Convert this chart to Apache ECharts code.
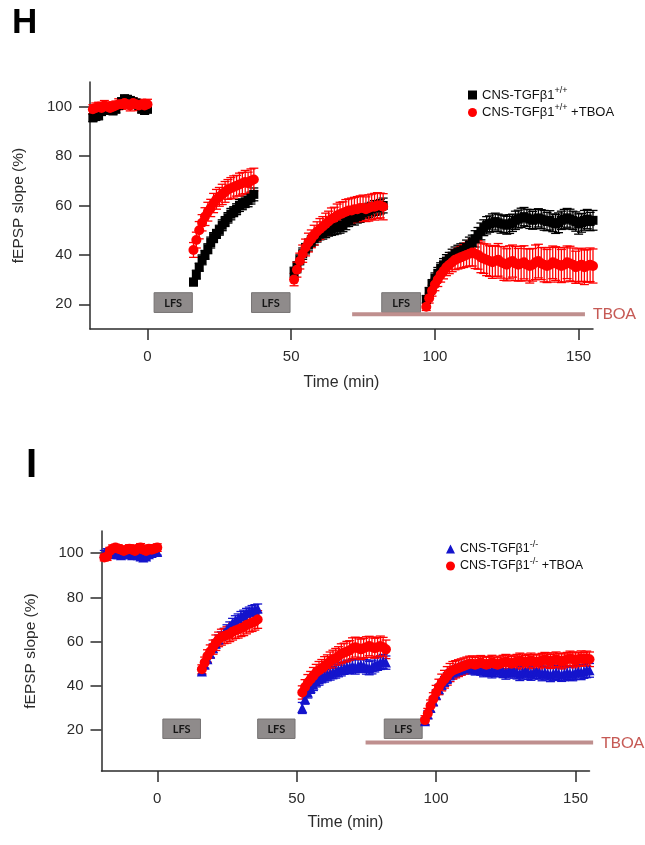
<!DOCTYPE html>
<html>
<head>
<meta charset="utf-8">
<script src="https://cdn.jsdelivr.net/npm/echarts@6/dist/echarts.min.js"></script>
<style>html,body{margin:0;padding:0;background:#fff}#c{width:645px;height:845px}</style>
</head>
<body>
<div id="c"></div>
<script>
// ---------- Panel H data ----------
const hTime = [-19,-18,-17,-16,-15,-14,-13,-12,-11,-10,-9,-8,-7,-6,-5,-4,-3,-2,-1,0,
  16,17,18,19,20,21,22,23,24,25,26,27,28,29,30,31,32,33,34,35,36,37,
  51,52,53,54,55,56,57,58,59,60,61,62,63,64,65,66,67,68,69,70,71,72,73,74,75,76,77,78,79,80,81,82,
  97,98,99,100,101,102,103,104,105,106,107,108,109,110,111,112,113,114,115,116,117,118,119,120,121,122,123,124,125,126,127,128,129,130,131,132,133,134,135,136,137,138,139,140,141,142,143,144,145,146,147,148,149,150,151,152,153,154,155];
const hCtl = [95.5,96,96.5,98,98.5,99,99.5,98.5,99,100.5,102,103,103,102.5,102,101.5,100.5,99,98.5,99,
  29,32,35,38,40,42.5,45,47,48.5,50,52,53.5,55,56.5,57.5,58.5,60,60.5,61.5,62,63,64.5,
  33,35,38,40.5,42.5,44,45.5,46.5,47.5,48.5,49,49.5,50,50.5,51,51,51.5,52,53,54,55,55,55.5,56,57,57.5,58,58.5,59,59,59.5,60,
  22,25,28,30.5,32.5,34.5,36,37.5,38.5,39.5,40.5,41,41.5,42,43,44,45,46.5,48,49.5,51,52,52.5,53,53.5,53,52.5,52.5,52,52.5,53,54,54.5,55,55.5,55,54.5,54,54.5,55,54.5,54,53.5,54,53,52.5,53,54,54.5,55,54.5,54,53.5,52.5,53,54,54.5,53.5,54];
const hCtlErr = [1.5,1.5,1.8,1.5,1.5,1.6,1.5,1.8,1.5,1.5,1.6,1.8,1.5,1.6,1.5,1.5,1.8,1.5,1.6,1.5,
  1.5,1.8,1.6,2,1.8,2,2.2,2,1.8,2,2.2,2,2.1,2.3,2,2.2,2.4,2.2,2.3,2.5,2.4,2.6,
  2,2.2,2,2.3,2.1,2.4,2.2,2.5,2.3,2.4,2.6,2.5,2.4,2.6,2.8,2.5,2.7,2.6,2.8,2.5,2.7,2.9,2.6,2.8,3,2.7,2.9,2.8,3,2.8,2.9,3,
  1.5,1.8,2,2.2,2.4,2.3,2.5,2.6,2.5,2.8,2.7,2.9,3,2.8,3,3.2,3,3.3,3.1,3.4,3.2,3.5,3.3,3.6,3.4,3.5,3.7,3.4,3.6,3.8,3.5,3.7,3.6,3.9,3.7,3.5,3.8,3.6,3.9,3.7,3.8,4,3.7,3.9,3.6,3.8,4,3.7,3.9,3.8,4,3.7,3.9,4.1,3.8,4,3.9,3.7,4];
const hTboa = [99,99.5,100,99.5,100.5,100,99.5,100,100.5,101,101,101.5,101,100.5,101.5,101,100.5,101,100.5,101,
  42,46,50,53,55.5,57.5,59,61,62.5,63.5,64.5,65.5,66.5,67,67.5,68,68.5,69,69.5,69,70,70.5,
  30,34,37.5,40.5,43,45,46.5,48,49.5,50.5,51.5,52.5,53.5,54.5,55,56,56.5,57,57.5,58,58,58.5,58.5,59,59,58.5,59,59.5,59.5,60,60,59.5,
  19,22.5,25.5,28,30,32,33.5,35,36,37,38,38.5,39,39.5,40,40.5,41,40.5,40,39,38.5,38,37.5,37,37.5,38,37,36.5,36,37,37.5,36.5,36,36.5,37,36,35.5,36,37,37.5,36.5,36,35.5,36,37,36.5,36,35.5,36,37,36.5,36,35,35.5,36,35,35.5,36,35.5];
const hTboaErr = [1.8,2,1.8,2.2,2,1.9,2.1,2,1.8,2.2,2,2.1,1.9,2.2,2,1.8,2.1,2,2.2,2,
  3,3.2,3.5,3.3,3.6,3.8,3.5,3.9,4,3.8,4.1,4.2,4,4.3,4.5,4.2,4.6,4.4,4.7,4.5,4.8,4.6,
  2.5,3,3.2,3.5,3.4,3.8,3.6,4,3.9,4.2,4,4.4,4.2,4.5,4.3,4.6,4.8,4.5,4.9,4.7,5,4.8,5.1,4.9,5.2,5,5.3,5.1,5.4,5.2,5,5.3,
  1.5,2,2.2,2.5,2.8,3,3.2,3.4,3.6,3.8,4,4.2,4.4,4.6,4.8,5,5.5,6,5.8,6.2,6,6.4,6.2,6.5,6.3,6.6,6.4,6.8,6.5,6.7,6.5,6.9,6.6,7,6.7,6.5,6.9,6.6,7,6.8,6.5,6.9,6.7,7,6.6,6.8,7,6.7,6.9,6.6,7,6.8,6.5,6.9,6.7,7,6.6,6.8,6.9];

// ---------- Panel I data ----------
const iTime = [-19,-18,-17,-16,-15,-14,-13,-12,-11,-10,-9,-8,-7,-6,-5,-4,-3,-2,-1,0,
  16,17,18,19,20,21,22,23,24,25,26,27,28,29,30,31,32,33,34,35,36,
  52,53,54,55,56,57,58,59,60,61,62,63,64,65,66,67,68,69,70,71,72,73,74,75,76,77,78,79,80,81,82,
  96,97,98,99,100,101,102,103,104,105,106,107,108,109,110,111,112,113,114,115,116,117,118,119,120,121,122,123,124,125,126,127,128,129,130,131,132,133,134,135,136,137,138,139,140,141,142,143,144,145,146,147,148,149,150,151,152,153,154,155];
const iKo = [100,100.5,100,99.5,100,99.5,99,99.5,100,99.5,99,99.5,99,98.5,98,98.5,99.5,100,100.5,100.5,
  46.5,49.5,52,54.5,57,59,61,62.5,64,65.5,67,68.5,69.5,70.5,71.5,72,73,73.5,74,74.5,75,
  30,34,37,39,40.5,42,43,44,44.5,45,45.5,46,46.5,47,47.5,48,48.5,48.5,49,48.5,49,49.5,49,48.5,48,48.5,49.5,50,50.5,51,50.5,
  24,27,30,33,36,38.5,40.5,42,43.5,45,46,46.5,47,47.5,48,48.5,48.5,48,47.5,48,47.5,47,47.5,47,46.5,47,47.5,47,46.5,46,46.5,47,46.5,46,45.5,46,46.5,46,45.5,46,46.5,46,45.5,46,45.5,45,45.5,46,45.5,45,45.5,46,45.5,45.5,46,46.5,46,46.5,47,47];
const iKoErr = [1.2,1.5,1.3,1.4,1.2,1.5,1.3,1.2,1.4,1.5,1.3,1.2,1.4,1.5,1.3,1.4,1.2,1.5,1.3,1.4,
  1.5,1.6,1.8,1.7,1.9,1.8,2,1.9,2,2.1,1.9,2,2.2,2,2.1,2.2,2,2.1,2.3,2.2,2,
  2.5,2.3,2.5,2.4,2.6,2.5,2.7,2.6,2.8,2.7,2.9,2.8,3,2.9,3,2.8,3.1,2.9,3,3.2,3,3.1,2.9,3.2,3,3.1,3.2,3,3.1,3.2,3,
  1.5,1.7,1.9,2,2.2,2.1,2.3,2.2,2.4,2.3,2.5,2.4,2.6,2.5,2.7,2.6,2.8,2.7,2.6,2.8,2.7,2.9,2.8,2.7,2.9,2.8,3,2.9,2.8,3,2.9,2.8,3,2.9,3.1,3,2.9,3.1,3,2.9,3.1,3,3.2,3,2.9,3.1,3,3.2,3.1,3,3.2,3.1,3,3.2,3.1,3,3.2,3.1,3.3,3.1];
const iTboa = [98,98.5,101,102,102.5,102,101.5,101,101.5,102,101.5,101,102,102.5,101.5,101,102,101.5,102,102.5,
  47.5,50.5,53.5,55.5,57.5,59.5,61,62,62.5,63,63.5,64.5,65,65.5,66,66.5,67.5,68,68.5,69,70,
  37,39.5,41.5,43,44.5,46,47,48,49,50,51,52,52.5,53.5,54.5,55,55.5,56,57,57.5,57,56.5,57,57.5,58,57.5,57,57.5,58,57.5,56.5,
  24.5,27.5,31,34,37,39.5,41.5,43,44.5,46,47,47.5,48,48.5,49,49.5,50,50,49.5,50,50.5,50,49.5,50,50.5,50,49.5,50,50.5,51,50.5,50,50.5,51,51.5,51,50.5,51,51.5,51,50.5,51,51.5,52,51.5,51,51.5,52,51.5,51,51.5,52,52.5,52,51.5,52,52.5,52,52.5,52];
const iTboaErr = [1.5,1.8,1.6,1.7,1.5,1.8,1.6,1.5,1.7,1.8,1.6,1.5,1.7,1.8,1.6,1.5,1.7,1.6,1.8,1.7,
  2,2.5,2.8,3,3.2,3.5,3.3,3.6,3.4,3.7,3.5,3.8,3.6,3.9,3.7,3.8,4,3.7,3.9,3.8,4,
  3,3.3,3.6,3.5,3.8,3.7,4,3.9,4.2,4,4.3,4.1,4.4,4.2,4.5,4.3,4.6,4.4,4.7,4.5,4.8,4.6,4.5,4.7,4.4,4.6,4.5,4.3,4.5,4.4,4.2,
  2,2.3,2.6,2.9,3.2,3.5,3.8,4,4.2,4.1,4,3.9,3.8,3.7,3.6,3.5,3.4,3.5,3.3,3.4,3.2,3.3,3.4,3.2,3.3,3.1,3.2,3.4,3.3,3.2,3.4,3.3,3.1,3.2,3.3,3.4,3.2,3.1,3.3,3.2,3.4,3.3,3.2,3.1,3.3,3.2,3.4,3.3,3.2,3.4,3.3,3.1,3.2,3.3,3.4,3.2,3.3,3.1,3.2,3.3];

// ---------- Annotations (time in min, slope in %) ----------
const hLfsFrom = [2.3, 36.2, 81.5], hLfsTo = [15.6, 49.6, 95], hLfsLow = 16.7, hLfsHigh = 24.7;
const iLfsFrom = [2.0, 36.0, 81.4], iLfsTo = [15.5, 49.4, 95], iLfsLow = 16.2, iLfsHigh = 25;
const hTboaBar = [71.2, 152.2, 16];
const iTboaBar = [74.7, 156.3, 14.4];

// ---------- Axis ticks ----------
const xTicks = [0, 50, 100, 150];
const yTicks = [20, 40, 60, 80, 100];

const names = {
  hCtl: 'CNS-TGFβ1+/+', hTboa: 'CNS-TGFβ1+/+ +TBOA',
  iKo: 'CNS-TGFβ1-/-', iTboa: 'CNS-TGFβ1-/- +TBOA'
};

const FONT = "'Liberation Sans', Arial, sans-serif";
const AX = '#2b2b2b';

function xAxisCfg(gi, gap) {
  return {
    type: 'value', gridIndex: gi, min: -20, max: 155,
    axisLine: { onZero: false, lineStyle: { color: AX, width: 1.5 } },
    axisTick: { length: 11, customValues: xTicks, lineStyle: { color: AX, width: 1.5 } },
    axisLabel: { customValues: xTicks, margin: 20, fontSize: 15, color: AX, fontFamily: FONT },
    splitLine: { show: false },
    name: 'Time (min)', nameLocation: 'middle', nameGap: gap,
    nameTextStyle: { fontSize: 16, color: AX, fontFamily: FONT }
  };
}
function yAxisCfg(gi, min) {
  return {
    type: 'value', gridIndex: gi, min: min, max: 110,
    axisLine: { onZero: false, lineStyle: { color: AX, width: 1.5 } },
    axisTick: { length: 11, customValues: yTicks, lineStyle: { color: AX, width: 1.5 } },
    axisLabel: { customValues: yTicks, margin: 18, fontSize: 15, color: AX, fontFamily: FONT },
    splitLine: { show: false },
    name: 'fEPSP slope (%)', nameLocation: 'middle', nameGap: 63,
    nameTextStyle: { fontSize: 15.5, color: AX, fontFamily: FONT }
  };
}

function errSeries(gi, times, vals, errs, color) {
  return {
    type: 'custom', xAxisIndex: gi, yAxisIndex: gi, silent: true, clip: false,
    data: times.map((t, i) => [t, vals[i] - errs[i], vals[i] + errs[i]]),
    renderItem: function (params, api) {
      const x = api.value(0);
      const lo = api.coord([x, api.value(1)]);
      const hi = api.coord([x, api.value(2)]);
      const w = 4.5;
      const st = { stroke: color, lineWidth: 1.3 };
      return { type: 'group', children: [
        { type: 'line', shape: { x1: lo[0], y1: lo[1], x2: hi[0], y2: hi[1] }, style: st },
        { type: 'line', shape: { x1: lo[0] - w, y1: lo[1], x2: lo[0] + w, y2: lo[1] }, style: st },
        { type: 'line', shape: { x1: hi[0] - w, y1: hi[1], x2: hi[0] + w, y2: hi[1] }, style: st }
      ]};
    }
  };
}
function ptSeries(gi, name, times, vals, symbol, size, color) {
  return {
    type: 'scatter', name: name, xAxisIndex: gi, yAxisIndex: gi,
    symbol: symbol, symbolSize: size, itemStyle: { color: color, opacity: 1 },
    data: times.map((t, i) => [t, vals[i]]), silent: true
  };
}
function lfsSeries(gi, from, to, low, high) {
  return {
    type: 'custom', xAxisIndex: gi, yAxisIndex: gi, silent: true, clip: false,
    data: from.map((f, i) => [f, to[i], low, high]),
    renderItem: function (params, api) {
      const p0 = api.coord([api.value(0), api.value(3)]);
      const p1 = api.coord([api.value(1), api.value(2)]);
      return { type: 'group', children: [
        { type: 'rect', shape: { x: p0[0], y: p0[1], width: p1[0] - p0[0], height: p1[1] - p0[1] },
          style: { fill: '#8f8b8b', stroke: '#767373', lineWidth: 1 } },
        { type: 'text', x: (p0[0] + p1[0]) / 2, y: (p0[1] + p1[1]) / 2 + 0.5,
          style: { text: 'LFS', fill: '#161616', font: "bold 11px 'Lato', 'Liberation Sans', sans-serif",
                   align: 'center', verticalAlign: 'middle', textAlign: 'center', textVerticalAlign: 'middle' } }
      ]};
    }
  };
}
function tboaSeries(gi, bar) {
  return {
    type: 'custom', xAxisIndex: gi, yAxisIndex: gi, silent: true, clip: false,
    data: [bar],
    renderItem: function (params, api) {
      const a = api.coord([api.value(0), api.value(2)]);
      const b = api.coord([api.value(1), api.value(2)]);
      return { type: 'group', children: [
        { type: 'line', shape: { x1: a[0], y1: a[1], x2: b[0], y2: b[1] }, style: { stroke: '#bf8f8e', lineWidth: 4 } },
        { type: 'text', x: b[0] + 8, y: b[1],
          style: { text: 'TBOA', fill: '#c65a55', font: "16px 'Lato', 'Liberation Sans', sans-serif",
                   align: 'left', verticalAlign: 'middle', textAlign: 'left', textVerticalAlign: 'middle' } }
      ]};
    }
  };
}

function legendFmt(name) {
  const m = name.match(/^(CNS-TGFβ1)([+\-]\/[+\-])(.*)$/);
  return '{b|' + m[1] + '}{s|' + m[2] + '}' + (m[3] ? '{b|' + m[3] + '}' : '');
}
function legendCfg(data, left, top, fs, gap) {
  return {
    data: data, orient: 'vertical', left: left, top: top, itemWidth: 9, itemHeight: 9, itemGap: gap,
    padding: 0, selectedMode: false, formatter: legendFmt,
    textStyle: { color: '#111', fontFamily: FONT, rich: {
      b: { fontSize: fs, lineHeight: 18, color: '#111', fontFamily: FONT },
      s: { fontSize: 9, verticalAlign: 'top', color: '#111', fontFamily: FONT }
    } }
  };
}

const chart = echarts.init(document.getElementById('c'), null, { renderer: 'canvas' });
chart.setOption({
  animation: false,
  backgroundColor: '#fff',
  title: [
    { text: 'H', left: 12, top: 6, padding: 0, textStyle: { fontSize: 35, fontWeight: 'bold', color: '#000', fontFamily: FONT } },
    { text: 'I', left: 26, top: 446, padding: 0, textStyle: { fontSize: 40, fontWeight: 'bold', color: '#000', fontFamily: FONT } }
  ],
  grid: [
    { left: 90, top: 82, width: 503, height: 247 },
    { left: 101.5, top: 531, width: 488, height: 240 }
  ],
  xAxis: [xAxisCfg(0, 46), xAxisCfg(1, 44)],
  yAxis: [yAxisCfg(0, 10), yAxisCfg(1, 1.5)],
  legend: [
    legendCfg([names.hCtl, names.hTboa], 468, 86, 13, 2),
    legendCfg([names.iKo, names.iTboa], 446, 540, 12.5, 1.5)
  ],
  series: [
    lfsSeries(0, hLfsFrom, hLfsTo, hLfsLow, hLfsHigh),
    tboaSeries(0, hTboaBar),
    errSeries(0, hTime, hCtl, hCtlErr, '#000'),
    ptSeries(0, names.hCtl, hTime, hCtl, 'rect', 9, '#000'),
    errSeries(0, hTime, hTboa, hTboaErr, '#ff0000'),
    ptSeries(0, names.hTboa, hTime, hTboa, 'circle', 10, '#ff0000'),

    lfsSeries(1, iLfsFrom, iLfsTo, iLfsLow, iLfsHigh),
    tboaSeries(1, iTboaBar),
    errSeries(1, iTime, iKo, iKoErr, '#1414cc'),
    ptSeries(1, names.iKo, iTime, iKo, 'triangle', 10, '#1414cc'),
    errSeries(1, iTime, iTboa, iTboaErr, '#ff0000'),
    ptSeries(1, names.iTboa, iTime, iTboa, 'circle', 10, '#ff0000')
  ]
});
</script>
</body>
</html>
